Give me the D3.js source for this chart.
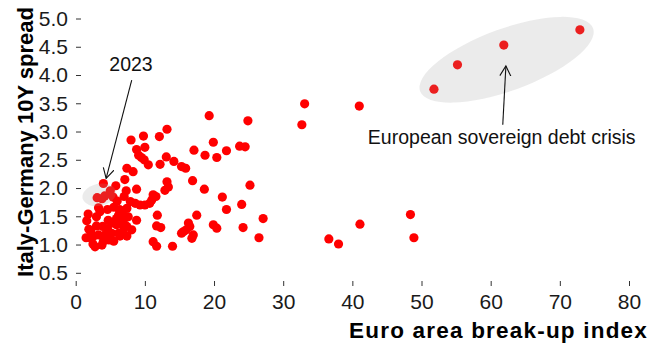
<!DOCTYPE html>
<html>
<head>
<meta charset="UTF-8">
<title></title>
<style>
  body { margin: 0; background: #fff; }
  svg text { font-family: "Liberation Sans", Arial, sans-serif; }
</style>
</head>
<body>
<div id="chart"></div>
<script src="https://cdn.jsdelivr.net/npm/d3@7/dist/d3.min.js"></script>
<script>
// euro area break-up index (x) and Italy-Germany 10Y spread (y), one entry per point
var breakupIndex = [
  33.1, 32.7, 41.0, 41.1, 36.6, 38.0, 48.4, 48.9, 26.5, 27.1,
  51.8, 55.2, 61.9, 72.9,
  19.3, 24.9, 19.9, 17.1, 18.7, 20.4, 21.8, 23.7, 24.5, 15.3, 15.9, 16.9, 18.6, 25.2,
  21.2, 21.8, 24.0, 17.5, 16.3, 16.5, 16.0, 15.6, 17.0, 16.8, 19.9, 20.4, 24.2, 14.0,
  14.2, 13.1, 12.2, 13.2, 12.1, 9.8, 8.0, 8.8, 10.0, 9.1, 9.5, 9.9, 10.5, 7.4,
  8.3, 7.1, 13.2, 13.4, 12.9, 8.8, 7.3, 11.2, 11.6, 11.0, 7.9, 8.6, 9.3, 10.0,
  10.7, 6.4, 7.4, 6.9, 7.6, 11.8, 11.7, 12.3, 8.1, 7.4, 15.3, 11.2, 11.7,
  4.0, 3.1, 3.8, 5.0, 5.4, 6.0, 3.3, 3.0, 5.5, 6.3, 6.7, 6.2, 5.9, 4.7,
  5.2, 3.0, 3.9, 8.8, 6.4, 6.9, 2.1, 2.5, 3.3, 4.2, 5.2, 6.2, 6.9, 6.4,
  2.5, 3.8, 2.8, 4.0, 1.8, 1.6, 1.9, 1.5, 4.2, 5.8, 4.8, 5.5, 7.4,
  2.2, 4.6, 5.9, 3.5, 4.6, 7.0
];
var itDeSpread = [
  3.49, 3.12, 3.45, 1.36, 1.10, 1.01, 1.53, 1.12, 1.12, 1.46,
  3.75, 4.18, 4.53, 4.80,
  3.28, 3.19, 2.81, 2.67, 2.58, 2.54, 2.66, 2.74, 2.73, 2.38, 2.35, 2.13, 1.98, 2.05,
  1.84, 1.62, 1.71, 1.52, 1.38, 1.32, 1.26, 1.23, 1.17, 1.11, 1.35, 1.29, 1.30, 0.97,
  2.47, 2.55, 2.42, 3.04, 2.91, 2.92, 2.85, 2.68, 2.72, 2.58, 2.54, 2.50, 2.41, 2.35,
  2.29, 2.15, 2.11, 2.02, 1.96, 1.98, 1.95, 1.88, 1.85, 1.79, 1.76, 1.73, 1.70, 1.70,
  1.73, 1.61, 1.64, 1.43, 1.49, 1.52, 1.33, 1.30, 1.26, 1.32, 1.20, 1.05, 0.97,
  2.08, 1.83, 1.81, 1.95, 1.84, 1.77, 1.65, 1.49, 1.66, 1.62, 1.56, 1.52, 1.46, 1.43,
  1.38, 1.33, 1.32, 1.43, 1.42, 1.32, 1.12, 1.14, 1.17, 1.17, 1.20, 1.20, 1.20, 1.15,
  1.01, 0.99, 0.96, 1.06, 1.54, 1.42, 1.27, 1.12, 1.86, 2.04, 1.08, 1.06, 1.15,
  1.22, 1.28, 1.35, 1.58, 1.62, 1.85
];

var xTickValues = [0, 10, 20, 30, 40, 50, 60, 70, 80];
var yTickValues = [0.5, 1.0, 1.5, 2.0, 2.5, 3.0, 3.5, 4.0, 4.5, 5.0];

var xTitle = "Euro area break-up index";
var yTitle = "Italy-Germany 10Y spread";

// highlight ellipses (centre in data units) with their labels
var crisisLabel = { text: "European sovereign debt crisis", x: 61.6, y: 2.78,
                    from: [61.75, 3.12], to: [62.2, 4.16],
                    cx: 62.3, cy: 4.27 };
var recentLabel = { text: "2023", x: 8.0, y: 4.07,
                    from: [8.1, 3.91], to: [4.4, 2.17],
                    cx: 3.4, cy: 1.88 };

var data = breakupIndex.map(function(d, i) {
  return { x: d, y: itDeSpread[i] };
});

var width = 659, height = 344;

var svg = d3.select("#chart")
  .append("svg")
  .attr("width", width)
  .attr("height", height);

var x = d3.scaleLinear().domain([0, 80]).range([75.7, 629]);
var y = d3.scaleLinear().domain([0.5, 5.0]).range([272.8, 18.5]);

// arrow head
svg.append("defs").append("marker")
  .attr("id", "arrow")
  .attr("markerUnits", "userSpaceOnUse")
  .attr("markerWidth", 14)
  .attr("markerHeight", 14)
  .attr("refX", 10)
  .attr("refY", 6)
  .attr("orient", "auto")
  .append("path")
  .attr("d", "M0,0.5L10,6L0,11.5")
  .attr("fill", "none")
  .attr("stroke", "#111")
  .attr("stroke-width", 1.1);

// axes
var yAxis = d3.axisLeft(y)
  .tickValues(yTickValues)
  .tickSize(5)
  .tickPadding(8)
  .tickFormat(d3.format(".1f"));

var gy = svg.append("g")
  .attr("transform", "translate(81,0)")
  .call(yAxis);

var xAxis = d3.axisBottom(x)
  .tickValues(xTickValues)
  .tickSize(5)
  .tickPadding(8);

var gx = svg.append("g")
  .attr("transform", "translate(0,281)")
  .call(xAxis);

[gx, gy].forEach(function(g) {
  g.select(".domain").remove();
  g.selectAll("line").attr("stroke", "#333");
  g.selectAll("text")
    .attr("font-size", "21px")
    .attr("font-family", "Liberation Sans, Arial, sans-serif")
    .attr("fill", "#1a1a1a");
});

// points
svg.append("g")
  .selectAll("circle")
  .data(data)
  .join("circle")
  .attr("cx", function(d) { return x(d.x); })
  .attr("cy", function(d) { return y(d.y); })
  .attr("r", 4.6)
  .attr("fill", "#ff0000");

// grey ellipses drawn over the points
svg.append("ellipse")
  .attr("transform", "translate(" + x(crisisLabel.cx) + "," + y(crisisLabel.cy) + ") rotate(-20)")
  .attr("rx", 92)
  .attr("ry", 31)
  .attr("fill", "#999")
  .attr("fill-opacity", 0.2);

svg.append("ellipse")
  .attr("transform", "translate(" + x(recentLabel.cx) + "," + y(recentLabel.cy) + ") rotate(-12)")
  .attr("rx", 17)
  .attr("ry", 11)
  .attr("fill", "#999")
  .attr("fill-opacity", 0.2);

// annotations
[crisisLabel, recentLabel].forEach(function(a) {
  svg.append("line")
    .attr("x1", x(a.from[0]))
    .attr("y1", y(a.from[1]))
    .attr("x2", x(a.to[0]))
    .attr("y2", y(a.to[1]))
    .attr("stroke", "#111")
    .attr("stroke-width", 1.1)
    .attr("marker-end", "url(#arrow)");

  svg.append("text")
    .attr("x", x(a.x))
    .attr("y", y(a.y))
    .attr("text-anchor", "middle")
    .attr("font-size", "19.5px")
    .attr("fill", "#111")
    .text(a.text);
});

// axis titles
svg.append("text")
  .attr("x", 648)
  .attr("y", 338)
  .attr("text-anchor", "end")
  .attr("font-size", "22.5px")
  .attr("font-weight", "bold")
  .attr("letter-spacing", "1.2px")
  .text(xTitle);

svg.append("text")
  .attr("transform", "translate(33,142) rotate(-90)")
  .attr("text-anchor", "middle")
  .attr("font-size", "22px")
  .attr("font-weight", "bold")
  .text(yTitle);
</script>
</body>
</html>
